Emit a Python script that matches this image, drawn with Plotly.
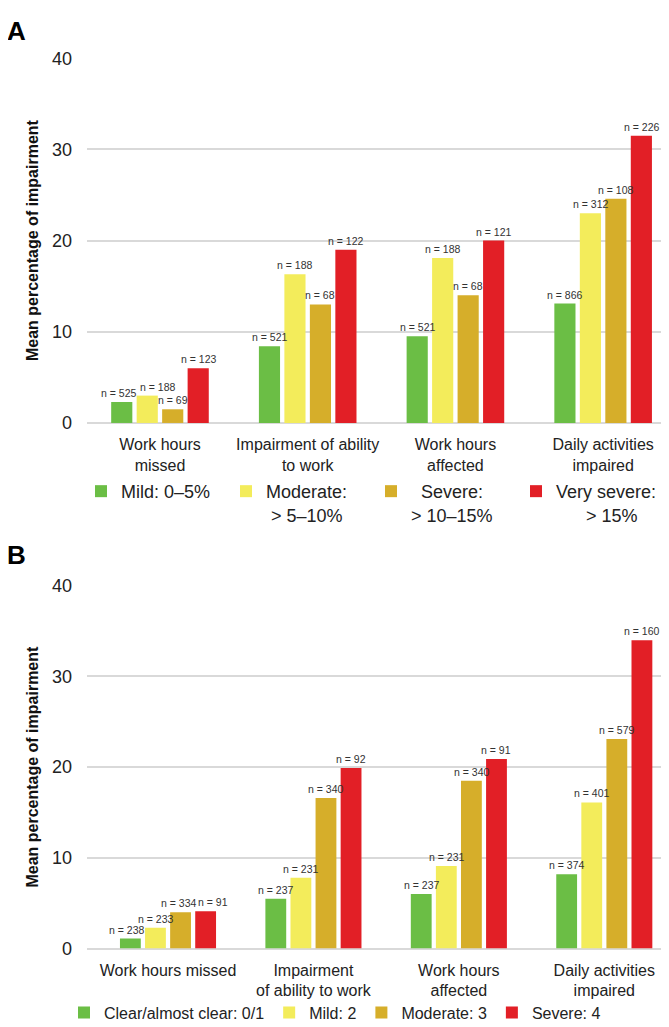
import plotly.graph_objects as go

# ---------------- data ----------------
categories_a = ["Work hours<br>missed", "Impairment of ability<br>to work",
                "Work hours<br>affected", "Daily activities<br>impaired"]
categories_b = ["Work hours missed", "Impairment<br>of ability to work",
                "Work hours<br>affected", "Daily activities<br>impaired"]

series_a = ["Mild: 0–5%",
            "Moderate:<br>\u00a0> 5–10%",
            "\u00a0\u00a0Severe:<br>> 10–15%",
            "Very severe:<br>\u00a0\u00a0\u00a0\u00a0\u00a0\u00a0> 15%"]
series_b = ["Clear/almost clear: 0/1", "Mild: 2", "Moderate: 3", "Severe: 4"]

a_mild = [2.3, 8.4, 9.5, 13.1]
a_moderate = [3.0, 16.3, 18.1, 23.0]
a_severe = [1.5, 13.0, 14.0, 24.6]
a_very_severe = [6.0, 19.0, 20.0, 31.5]
a_mild_n = [525, 521, 521, 866]
a_moderate_n = [188, 188, 188, 312]
a_severe_n = [69, 68, 68, 108]
a_very_severe_n = [123, 122, 121, 226]

b_clear = [1.1, 5.5, 6.0, 8.2]
b_mild = [2.3, 7.8, 9.1, 16.1]
b_moderate = [4.0, 16.6, 18.5, 23.1]
b_severe = [4.1, 19.9, 20.9, 34.0]
b_clear_n = [238, 237, 237, 374]
b_mild_n = [233, 231, 231, 401]
b_moderate_n = [334, 340, 340, 579]
b_severe_n = [91, 92, 91, 160]

y_ticks = [0, 10, 20, 30, 40]

# ---------------- style ----------------
colors = ["#6BBE45", "#F3EC5B", "#D6AE2A", "#E21F26"]
FONT = "Arial, 'Liberation Sans', Helvetica, sans-serif"
TXT = "#222222"
BARGAP = 0.31
BARGROUPGAP = 0.17
# small horizontal nudges (px) for crowded n-labels: (series index, category index) -> px
label_nudge_a = {(0, 0): -3, (1, 0): 10}
label_nudge_b = {(0, 0): -4, (2, 0): -2, (3, 0): 7}

fig = go.Figure()
annotations = []

def add_panel(cats, names, vals_list, ns_list, xax, yax, legend, nudges):
    slot = (1 - BARGAP) / len(vals_list)
    for i, (name, vals, ns, col) in enumerate(zip(names, vals_list, ns_list, colors)):
        fig.add_trace(go.Bar(
            x=cats, y=vals, name=name,
            marker=dict(color=col, line=dict(width=0)),
            xaxis=xax, yaxis=yax, legend=legend,
            hovertemplate="%{x}: %{y}<extra></extra>",
        ))
        for j, (v, n) in enumerate(zip(vals, ns)):
            annotations.append(dict(
                x=j + (i - (len(vals_list) - 1) / 2) * slot, y=v,
                xref=xax, yref=yax, text=f"n = {n}", showarrow=False,
                xanchor="center", yanchor="bottom", yshift=1,
                xshift=nudges.get((i, j), 0),
                font=dict(size=10.5, color="#333333", family=FONT),
            ))

add_panel(categories_a, series_a,
          [a_mild, a_moderate, a_severe, a_very_severe],
          [a_mild_n, a_moderate_n, a_severe_n, a_very_severe_n],
          "x", "y", "legend", label_nudge_a)
add_panel(categories_b, series_b,
          [b_clear, b_mild, b_moderate, b_severe],
          [b_clear_n, b_mild_n, b_moderate_n, b_severe_n],
          "x2", "y2", "legend2", label_nudge_b)

H = 1027.0
W = 669.0

def ydom(top_px, bottom_px):
    return [1 - bottom_px / H, 1 - top_px / H]

x_common = dict(type="category", showgrid=False, showline=False, zeroline=False,
                ticks="", tickfont=dict(size=16, color=TXT, family=FONT),
                ticklabelstandoff=10, fixedrange=True)
y_common = dict(range=[0, 40], tickvals=y_ticks, showgrid=True,
                gridcolor="#D9D9D9", gridwidth=1.5,
                zeroline=True, zerolinecolor="#D9D9D9", zerolinewidth=1.5,
                showline=False, ticks="",
                tickfont=dict(size=18, color=TXT, family=FONT),
                ticklabelstandoff=14, fixedrange=True)
ytitle = dict(text="Mean percentage of impairment",
              font=dict(size=16, color="#111111", family=FONT, weight="bold"),
              standoff=9)

annotations += [
    dict(text="<b>A</b>", x=-0.004, y=1 - 13 / H, xref="paper", yref="paper",
         xanchor="left", yanchor="middle", showarrow=False,
         font=dict(size=26, color="black", family=FONT)),
    dict(text="<b>B</b>", x=-0.004, y=1 - 548 / H, xref="paper", yref="paper",
         xanchor="left", yanchor="middle", showarrow=False,
         font=dict(size=26, color="black", family=FONT)),
]

fig.update_layout(
    width=669, height=1027,
    margin=dict(l=0, r=0, t=0, b=0),
    paper_bgcolor="white", plot_bgcolor="white",
    font=dict(family=FONT, color=TXT),
    barmode="group", bargap=BARGAP, bargroupgap=BARGROUPGAP,
    showlegend=True,
    xaxis=dict(x_common, domain=[79 / W, 1], anchor="y", range=[-0.494, 3.5]),
    yaxis=dict(y_common, domain=ydom(41, 413), anchor="x", title=ytitle),
    xaxis2=dict(x_common, domain=[79 / W, 1], anchor="y2", range=[-0.557, 3.5]),
    yaxis2=dict(y_common, domain=ydom(579, 949), anchor="x2", title=ytitle),
    legend=dict(orientation="h", x=73 / W, y=1 - 464 / H, xanchor="left", yanchor="top",
                font=dict(size=18, color=TXT, family=FONT), valign="top",
                entrywidth=100, entrywidthmode="pixels",
                bgcolor="rgba(0,0,0,0)", traceorder="normal"),
    legend2=dict(orientation="h", x=56 / W, y=1 - 997 / H, xanchor="left", yanchor="top",
                 font=dict(size=16, color=TXT, family=FONT), valign="top",
                 bgcolor="rgba(0,0,0,0)", traceorder="normal"),
    annotations=annotations,
)

fig.write_html("out.html")
